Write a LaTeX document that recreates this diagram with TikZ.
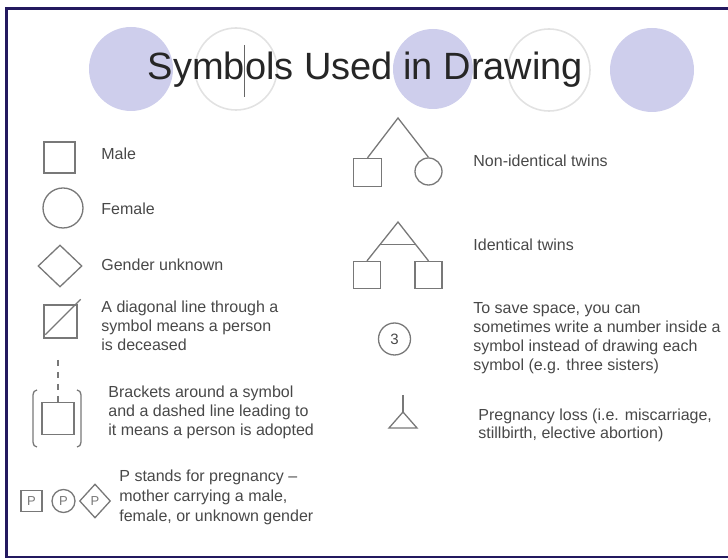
\documentclass[tikz,border=0pt]{standalone}
\usepackage{fontspec}
\setmainfont{Liberation Sans}
\usetikzlibrary{shapes.geometric,calc}
\definecolor{symgray}{RGB}{120,120,120}
\definecolor{txtgray}{RGB}{72,72,72}
\definecolor{lavender}{RGB}{206,206,236}
\definecolor{ringgray}{RGB}{226,226,226}
\definecolor{framenavy}{RGB}{35,25,95}
\tikzset{
  sym/.style={draw=symgray, line width=0.65pt, inner sep=0pt},
  male/.style={sym, rectangle, minimum size=#1},
  male/.default=15.5pt,
  female/.style={sym, circle, minimum size=#1},
  female/.default=20pt,
  unknown/.style 2 args={sym, diamond, minimum width=#1, minimum height=#2},
  lbl/.style={anchor=base west, align=left, inner sep=0pt, text=txtgray,
    font=\fontsize{8pt}{9.5pt}\selectfont},
  pfont/.style={text=symgray, font=\fontsize{6.5pt}{7pt}\selectfont},
}

\begin{document}
\begin{tikzpicture}[x=0.5pt,y=-0.5pt]
\useasboundingbox (0,0) rectangle (728,560);
% background disks and rings
\foreach \x/\y/\r in {131/69/21pt, 433/69/20pt, 652/70/21pt}{
	\fill[lavender] (\x,\y) circle (\r);
}
\foreach \x/\y in {236/69, 549/70}{
	\draw[ringgray, line width=0.8pt] (\x,\y) circle (20.5pt);
}

\node[anchor=base, text=black!85, font=\fontsize{19pt}{22pt}\selectfont] (title) at (365.5,80) {Symbols Used in Drawing};
\draw[black!60, line width=0.3pt] (244,45) -- (244,97);

% left column
\node[male] (male) at (59.5,157.5) {};
\node[female] (female) at (63,208) {};
\node[unknown={22pt}{21pt}] (unk) at (60,266) {};
\node[male=16.5pt] (dec) at (60.5,321.5) {};
\draw[sym] ([shift={(2,-4)}]dec.south west) -- ([shift={(3,-5)}]dec.north east);

\node[male=16pt] (adopt) at (58,418.5) {};
\coordinate (adoptTop) at (58,360);
\draw[sym, dashed] (adoptTop) -- (adopt.north);
% brackets
\draw[sym] (37,390) .. controls (34,391) .. (33,395) -- (33,442) .. controls (34,446) .. (37,447);
\draw[sym] (77,390) .. controls (80,391) .. (81,395) -- (81,442) .. controls (80,446) .. (77,447);

\node[male=10.5pt, pfont] (pMale) at (31.5,501) {P};
\node[female=11.5pt, pfont] (pFemale) at (63.5,501) {P};
\node[unknown={15.5pt}{17pt}, pfont] (pUnk) at (95,501) {P};

% multi-line labels sit on their last line
\node[lbl] (maleTxt) at (101,160) {Male};
\node[lbl] (femaleTxt) at (101,215) {Female};
\node[lbl] (unkTxt) at (101,271) {Gender unknown};
\node[lbl] (decTxt) at (101,351) {A diagonal line through a\\symbol means a person\\is deceased};
\node[lbl] (adoptTxt) at (108,436) {Brackets around a symbol\\and a dashed line leading to\\it means a person is adopted};
\node[lbl, font=\fontsize{8pt}{10pt}\selectfont] (pTxt) at (119,522) {P stands for pregnancy --\\mother carrying a male,\\female, or unknown gender};

% right column
\coordinate (nonApex) at (398,118);
\node[male=14pt] (nonM) at (367.5,172.5) {};
\node[female=13.5pt] (nonF) at (428.5,171.5) {};
\draw[sym] (nonM.north) -- (nonApex) -- (nonF.north);

\coordinate (idApex) at (398,222);
\node[male=13.5pt] (idL) at (367,275) {};
\node[male=13.5pt] (idR) at (428.5,275) {};
\draw[sym] (idL.north) -- (idApex) -- (idR.north);
\draw[sym] ($(idApex)!0.575!(idL.north)$) -- ($(idApex)!0.575!(idR.north)$);

\node[female=16pt, text=txtgray, font=\fontsize{7.5pt}{8pt}\selectfont] (three) at (394.5,339) {3};

\coordinate (lossTop) at (403,395);
\coordinate (lossApex) at (403,412);
\draw[sym] (lossTop) -- (lossApex);
\draw[sym] (lossApex) -- (389,428) -- (417,428) -- cycle;

\node[lbl] (nonTxt) at (473,167) {Non-identical twins};
\node[lbl] (idTxt) at (473,251) {Identical twins};
\node[lbl] (threeTxt) at (473,371) {To save space, you can\\sometimes write a number inside a\\symbol instead of drawing each\\symbol (e.g. three sisters)};
\node[lbl, font=\fontsize{8pt}{8.75pt}\selectfont] (lossTxt) at (478,438.5) {Pregnancy loss (i.e. miscarriage,\\stillbirth, elective abortion)};

% frame
\draw[framenavy, line width=1.1pt] (728,8.5) -- (6.5,8.5) -- (6.5,557) -- (728,557);
\end{tikzpicture}
\end{document}
